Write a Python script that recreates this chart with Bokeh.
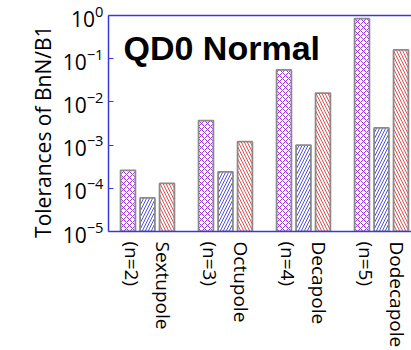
import math
from bokeh.plotting import figure
from bokeh.models import Label, LinearAxis, FixedTicker, Range1d
from bokeh.embed import file_html
from bokeh.resources import INLINE

categories = ["Sextupole", "Octupole", "Decapole", "Dodecapole"]
orders = ["(n=2)", "(n=3)", "(n=4)", "(n=5)"]
series_a = [2.6e-4, 3.7e-3, 5.5e-2, 0.85]   # purple cross-hatch
series_b = [6.0e-5, 2.4e-4, 1.0e-3, 2.5e-3]  # blue diagonal
series_c = [1.3e-4, 1.2e-3, 1.6e-2, 0.16]   # red diagonal
ytick_exps = [0, -1, -2, -3, -4, -5]
title_text = "QD0 Normal"
ylabel_text = "Tolerances of BnN/B1"

AXIS_BLUE = "#3838e0"
FONT = "Open Sans"

p = figure(width=411, height=350, y_axis_type="log",
           x_range=Range1d(-0.5, 3.385), y_range=Range1d(1e-5, 1.0),
           output_backend="svg", toolbar_location=None,
           min_border_left=108, min_border_right=0,
           min_border_top=15, min_border_bottom=117)
p.outline_line_color = None
p.grid.visible = False
p.background_fill_color = "white"

xs = list(range(len(categories)))
off = 0.25
w = 0.19
bottom = [1e-5] * len(xs)
p.vbar(x=[x - off for x in xs], top=series_a, bottom=bottom, width=w,
       fill_color="white", line_color="#8a8a8a", line_width=1.8,
       hatch_pattern="diagonal_cross", hatch_color="#a030e8",
       hatch_scale=6, hatch_weight=1)
p.vbar(x=xs, top=series_b, bottom=bottom, width=w,
       fill_color="white", line_color="#8a8a8a", line_width=1.8,
       hatch_pattern="right_diagonal_line", hatch_color="#5050e8",
       hatch_scale=6, hatch_weight=1)
p.vbar(x=[x + off for x in xs], top=series_c, bottom=bottom, width=w,
       fill_color="white", line_color="#8a8a8a", line_width=1.8,
       hatch_pattern="left_diagonal_line", hatch_color="#f04848",
       hatch_scale=6, hatch_weight=1)

# y axis (log, 10^k labels)
yax = p.yaxis[0]
yax.ticker = FixedTicker(ticks=[10.0 ** e for e in ytick_exps])
yax.major_label_text_font = FONT
yax.major_label_text_font_size = "21px"
yax.major_label_text_color = "black"
yax.major_label_standoff = 5
yax.major_tick_in = 5
yax.major_tick_out = 0
yax.major_tick_line_color = AXIS_BLUE
yax.minor_tick_line_color = None
yax.axis_line_color = AXIS_BLUE
yax.axis_line_width = 1.5
yax.axis_label = ylabel_text + "\u00a0\u00a0\u00a0"
yax.axis_label_text_font = FONT
yax.axis_label_text_font_size = "21px"
yax.axis_label_text_font_style = "normal"
yax.axis_label_text_color = "black"
yax.axis_label_standoff = 3

# x axis with category labels
xax = p.xaxis[0]
xax.ticker = FixedTicker(ticks=xs)
xax.major_label_overrides = {i: f"{c}\n{o}" for i, (c, o) in enumerate(zip(categories, orders))}
xax.major_label_orientation = -math.pi / 2
xax.major_label_text_font = FONT
xax.major_label_text_font_size = "19px"
xax.major_label_text_color = "black"
xax.major_label_standoff = 4
xax.axis_line_color = AXIS_BLUE
xax.axis_line_width = 1.5
xax.major_tick_line_color = None
xax.minor_tick_line_color = None

top_ax = LinearAxis(ticker=FixedTicker(ticks=[]), axis_line_color=AXIS_BLUE,
                    axis_line_width=1.5, major_tick_line_color=None,
                    minor_tick_line_color=None)
p.add_layout(top_ax, "above")

# chart title
p.add_layout(Label(x=-0.5, y=10.0 ** -0.96, x_offset=15, y_offset=9, text=title_text,
                   text_align="left", text_baseline="alphabetic",
                   text_font="Liberation Sans", text_font_style="bold",
                   text_font_size="34px", text_color="black"))

open("out.html", "w").write(file_html(p, INLINE))
